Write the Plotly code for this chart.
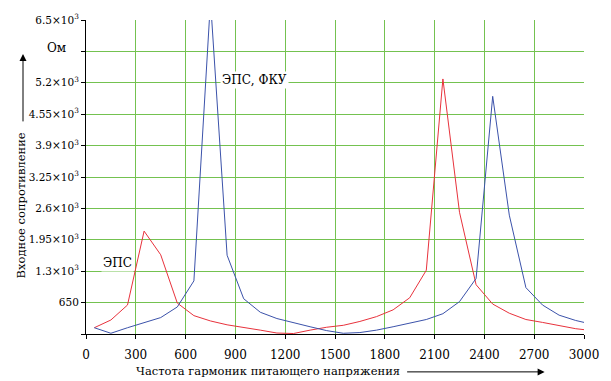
import plotly.graph_objects as go

# Frequency of supply-voltage harmonics, Hz
freq = [50, 150, 250, 350, 450, 550, 650, 750, 850, 950,
        1050, 1150, 1250, 1350, 1450, 1550, 1650, 1750, 1850, 1950,
        2050, 2150, 2250, 2350, 2450, 2550, 2650, 2750, 2850, 2950, 3050]

# Input impedance, Ohm — ЭПС (red)
z_eps = [130, 290, 600, 2130, 1640, 640, 380, 270, 190, 140,
         80, 20, 10, 80, 140, 180, 260, 360, 500, 750,
         1320, 5280, 2520, 1020, 620, 430, 300, 240, 180, 110, 70]

# Input impedance, Ohm — ЭПС, ФКУ (blue)
z_eps_fku = [130, 15, 130, 230, 340, 560, 1100, 6900, 1630, 730,
             450, 320, 230, 150, 70, 15, 30, 80, 150, 230,
             300, 420, 670, 1150, 4920, 2460, 960, 600, 390, 280, 200]

x_ticks = [0, 300, 600, 900, 1200, 1500, 1800, 2100, 2400, 2700, 3000]
y_ticks = [0, 650, 1300, 1950, 2600, 3250, 3900, 4550, 5200, 5850, 6500]
y_ticktext = ["", "650", "1.3×10<sup>3</sup>", "1.95×10<sup>3</sup>", "2.6×10<sup>3</sup>",
              "3.25×10<sup>3</sup>", "3.9×10<sup>3</sup>", "4.55×10<sup>3</sup>",
              "5.2×10<sup>3</sup>", "", "6.5×10<sup>3</sup>"]

SERIF = "DejaVu Serif"
GRID = "#74c250"

fig = go.Figure()
fig.add_trace(go.Scatter(x=freq, y=z_eps, mode="lines",
                         line=dict(color="#e8323c", width=1), name="ЭПС"))
fig.add_trace(go.Scatter(x=freq, y=z_eps_fku, mode="lines",
                         line=dict(color="#3b52aa", width=1), name="ЭПС, ФКУ"))

L, R, T, B = 86, 19, 19, 47
W, H = 611, 381
pw, ph = W - L - R, H - T - B

def px(xp):
    return (xp - L) / pw

def py(yp):
    return (H - B - yp) / ph

fig.update_layout(
    width=W, height=H,
    margin=dict(l=L, r=R, t=T, b=B, pad=0),
    paper_bgcolor="white", plot_bgcolor="white",
    showlegend=False,
    font=dict(family=SERIF, color="black", size=12),
    xaxis=dict(range=[0, 3000], tickvals=x_ticks, ticks="outside", ticklen=4,
               tickcolor="black", showline=True, linecolor="black", linewidth=1,
               showgrid=True, gridcolor=GRID, gridwidth=1, zeroline=False,
               ticklabelstandoff=6,
               tickfont=dict(family=SERIF, size=12, color="black")),
    yaxis=dict(range=[0, 6500], tickvals=y_ticks, ticktext=y_ticktext,
               ticks="outside", ticklen=4, tickcolor="black",
               showline=True, linecolor="black", linewidth=1,
               showgrid=True, gridcolor=GRID, gridwidth=1, zeroline=False,
               tickfont=dict(family=SERIF, size=10.5, color="black")),
)

def txt(x, y, text, xref="paper", yref="paper", size=12, **kw):
    d = dict(x=x, y=y, xref=xref, yref=yref, text=text, showarrow=False,
             xanchor="center", yanchor="middle",
             font=dict(family=SERIF, size=size, color="black"))
    d.update(kw)
    return d

ann = []
# curve labels
ann.append(txt(190, 1465, "ЭПС", xref="x", yref="y", bgcolor="white"))
ann.append(txt(1014, 5260, "ЭПС, ФКУ", xref="x", yref="y", bgcolor="white"))
# unit label
ann.append(txt(px(56), py(47), "Ом"))
# axis titles
ann.append(txt(px(271), py(371), "Частота гармоник питающего напряжения", size=11.5))
ann.append(txt(px(20), py(205), "Входное сопротивление", size=11.5, textangle=-90))
# arrows
ann.append(dict(x=px(552), y=py(372), xref="paper", yref="paper", text="",
                showarrow=True, ax=-139, ay=0, arrowhead=2, arrowsize=1.4,
                arrowwidth=1, arrowcolor="black"))
ann.append(dict(x=px(22), y=py(53), xref="paper", yref="paper", text="",
                showarrow=True, ax=0, ay=69, arrowhead=2, arrowsize=1.4,
                arrowwidth=1, arrowcolor="black"))
fig.update_layout(annotations=ann)

fig.write_html("out.html")
